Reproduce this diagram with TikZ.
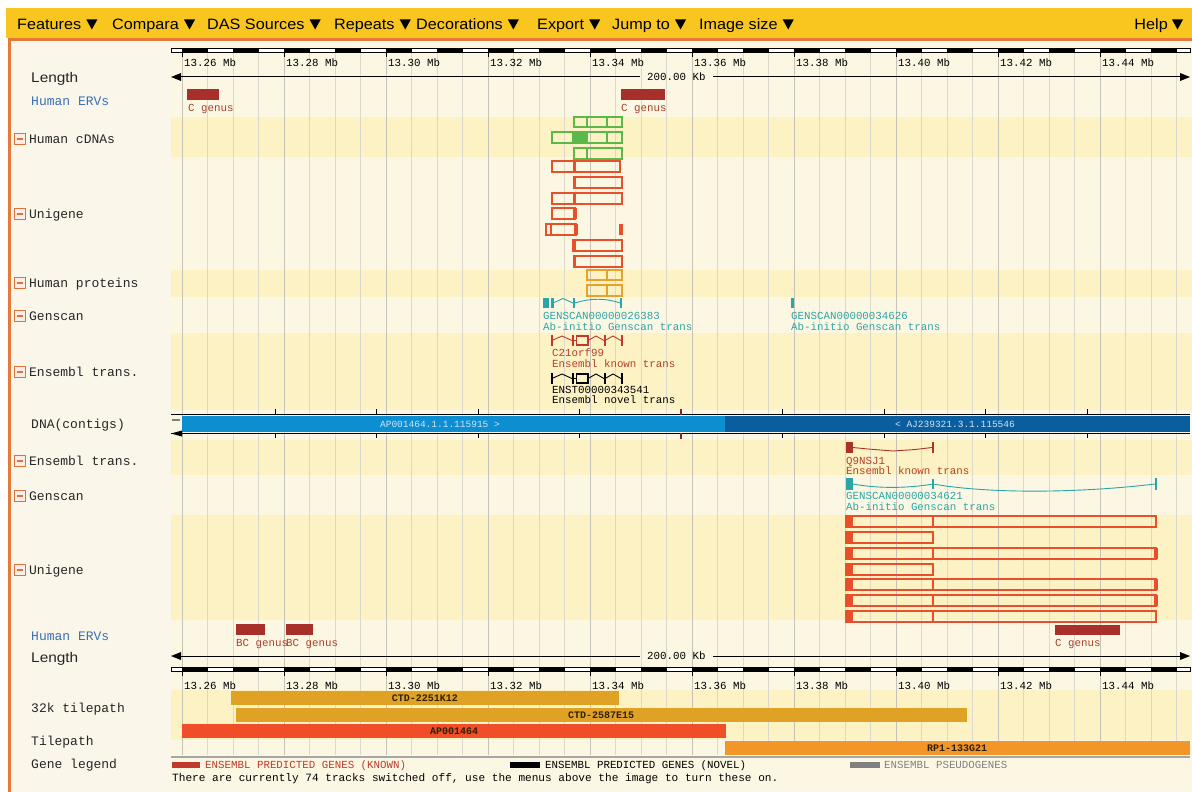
\documentclass[tikz,border=0pt]{standalone}
\usepackage{fontspec}
\newfontfamily\monof{Liberation Mono}
\newfontfamily\menuf[FakeStretch=1.08]{Liberation Sans}
\newfontfamily\labsf[FakeStretch=1.1]{Liberation Sans}
\usetikzlibrary{calc}
\definecolor{menuyel}{HTML}{F9C51F}
\definecolor{menuorange}{HTML}{E5793A}
\definecolor{panelbg}{HTML}{FAF6E9}
\definecolor{trackbg}{HTML}{FBF7E3}
\definecolor{stripe}{HTML}{FCF2C4}
\definecolor{gridmin}{HTML}{DCD8CC}
\definecolor{gridmaj}{HTML}{C6C2B7}
\definecolor{erv}{HTML}{A8302A}
\definecolor{ervtxt}{HTML}{A8402E}
\definecolor{cdna}{HTML}{5CB848}
\definecolor{unig}{HTML}{E8502C}
\definecolor{prot}{HTML}{E8A22A}
\definecolor{gscan}{HTML}{2AA5A8}
\definecolor{known}{HTML}{C0392B}
\definecolor{knowntxt}{HTML}{B5402A}
\definecolor{dnal}{HTML}{0D8ED0}
\definecolor{dnad}{HTML}{0B5E9D}
\definecolor{dnatxt}{HTML}{CFE6F5}
\definecolor{tp32}{HTML}{E0A224}
\definecolor{tpa}{HTML}{EF4E29}
\definecolor{tpb}{HTML}{F3962A}
\definecolor{tptxt}{HTML}{2E1E05}
\definecolor{ervblue}{HTML}{3B70B2}
\definecolor{iconor}{HTML}{E0703C}
\definecolor{pseudo}{HTML}{808080}

\newcommand\ensruler[3]{%
  \fill[white] (171,#1) rectangle (1190,#1+4);
  \foreach \k in {0,...,19}{\fill[black] (182+51*\k,#1) rectangle (207.5+51*\k,#1+4);}
  \draw[black,line width=0.8pt] (171,#1) rectangle (1190,#1+4);
  \foreach \lab [count=\k from 0] in {13.26,13.28,13.30,13.32,13.34,13.36,13.38,13.40,13.42,13.44}{
    \draw[black,line width=0.8pt] (182+102*\k,#1+4) -- (182+102*\k,#1+9);
    \node[ftxt] (#3\k) at (184+102*\k,#2) {\lab\ Mb};
  }}
\newcommand\lenline[2]{%
  \draw[black,line width=1pt] (178,#1) -- (640,#1) (713,#1) -- (1183,#1);
  \fill[black] (171,#1) -- (181,#1-4) -- (181,#1+4) -- cycle;
  \fill[black] (1190,#1) -- (1180,#1-4) -- (1180,#1+4) -- cycle;
  \node[ftxt] (#2) at (647,#1) {200.00 Kb};}
\newcommand\menuitem[3]{%
  \node[menu] (#1) at (#2,24) {#3};
  \fill[black] ($(#1.east)+(5,-4.5)$) -- ++(11,0) -- ++(-5.5,10) -- cycle;}
\newcommand\minusicon[1]{%
  \draw[iconor,fill=iconor!12,line width=1pt] (14,#1-5.5) rectangle (25,#1+5.5);
  \draw[iconor,line width=1.2pt] (16.5,#1) -- (22.5,#1);}
\newcommand\transglyph[2]{% #1 colour, #2 top
  \begin{scope}[#1]
  \draw[exonbar] (552,#2) -- (552,#2+11);
  \draw[intron] (552,#2+5.5) -- (562,#2+1) -- (572,#2+5.5);
  \draw[exonbar] (573,#2) -- (573,#2+11);
  \draw[intron] (573,#2+5.5) -- (576,#2+5.5);
  \draw[line width=1.3pt] (576.5,#2+1) rectangle (588,#2+10);
  \draw[intron] (588,#2+5.5) -- (596,#2+1) -- (604,#2+5.5);
  \draw[exonbar] (605,#2) -- (605,#2+11);
  \draw[intron] (605,#2+5.5) -- (613,#2+1) -- (621,#2+5.5);
  \draw[exonbar] (622,#2) -- (622,#2+11);
  \end{scope}}

\begin{document}
\begin{tikzpicture}[x=1pt,y=-1pt,
  menu/.style={anchor=west,inner sep=0pt,text height=11pt,text depth=0pt,font=\menuf\fontsize{15}{15}\selectfont},
  slab/.style={anchor=west,inner sep=0pt,text height=10pt,text depth=0pt,text=black!85,font=\labsf\fontsize{14}{14}\selectfont},
  lab/.style={anchor=west,inner sep=0pt,text height=9pt,text depth=0pt,text=black!85,font=\monof\fontsize{13}{13}\selectfont},
  ftxt/.style={anchor=west,inner sep=0pt,text height=7.5pt,text depth=0pt,font=\monof\fontsize{10.8}{10.8}\selectfont},
  stxt/.style={anchor=center,inner sep=0pt,text height=6.5pt,text depth=0pt,font=\monof\fontsize{9.5}{9.5}\selectfont},
  btxt/.style={stxt,font=\monof\bfseries\fontsize{10}{10}\selectfont},
  gmin/.style={draw=gridmin,line width=0.8pt},
  gmaj/.style={draw=gridmaj,line width=0.9pt},
  box/.style={line width=1.3pt},
  exonbar/.style={line width=1.7pt},
  intron/.style={line width=0.9pt}]
\useasboundingbox (0,0) rectangle (1192,792);
% --- frame ---
\fill[white] (0,0) rectangle (1192,792);
\fill[menuyel] (6,8) rectangle (1192,38);
\fill[panelbg] (8,38) rectangle (1192,792);
\fill[menuorange] (8,38) rectangle (1192,41);
\fill[menuorange] (8,38) rectangle (11,792);
% --- menu ---
\menuitem{mFeat}{17}{Features}
\menuitem{mComp}{112}{Compara}
\menuitem{mDas}{207}{DAS Sources}
\menuitem{mRep}{334}{Repeats}
\menuitem{mDec}{416}{Decorations}
\menuitem{mExp}{537}{Export}
\menuitem{mJump}{612}{Jump to}
\menuitem{mSize}{699}{Image size}
\node[menu,anchor=east] (mHelp) at (1168,24) {Help};
\fill[black] (1172,19.5) -- (1183,19.5) -- (1177.5,29.5) -- cycle;
% --- track background ---
\fill[trackbg] (171,44) rectangle (1192,790);
\foreach \ya/\yb in {117/157,270/297,333/410,440/475,515/620,690/740}{
  \fill[stripe] (171,\ya) rectangle (1192,\yb);}
\foreach \i in {0,...,39}{
  \pgfmathtruncatemacro\maj{mod(\i,4)==0 ? 1 : 0}
  \ifnum\maj=1 \draw[gmaj] (182+25.5*\i,52) -- (182+25.5*\i,755);
  \else \draw[gmin] (182+25.5*\i,52) -- (182+25.5*\i,755); \fi}
% --- rulers ---
\ensruler{48}{63}{rt}
\lenline{77}{lenT}
\ensruler{667}{686}{rb}
\lenline{656}{lenB}
% --- labels ---
\node[slab] (lLen1) at (31,77) {Length};
\node[lab,text=ervblue] (lErv1) at (31,101) {Human ERVs};
\minusicon{139}\node[lab] (lCdna) at (29,139) {Human cDNAs};
\minusicon{214}\node[lab] (lUni1) at (29,214) {Unigene};
\minusicon{283}\node[lab] (lProt) at (29,283) {Human proteins};
\minusicon{316}\node[lab] (lGen1) at (29,316) {Genscan};
\minusicon{372}\node[lab] (lEns1) at (29,372) {Ensembl trans.};
\node[lab] (lDna) at (31,424) {DNA(contigs)};
\minusicon{461}\node[lab] (lEns2) at (29,461) {Ensembl trans.};
\minusicon{496}\node[lab] (lGen2) at (29,496) {Genscan};
\minusicon{570}\node[lab] (lUni2) at (29,570) {Unigene};
\node[lab,text=ervblue] (lErv2) at (31,636) {Human ERVs};
\node[slab] (lLen2) at (31,657) {Length};
\node[lab] (lTp32) at (31,708) {32k tilepath};
\node[lab] (lTp) at (31,741) {Tilepath};
\node[lab] (lLeg) at (31,764) {Gene legend};
% --- upper Human ERVs ---
\fill[erv] (187,89) rectangle (219,100);
\node[ftxt,text=ervtxt] (e1) at (188,108) {C genus};
\fill[erv] (621,89) rectangle (665,100);
\node[ftxt,text=ervtxt] (e2) at (621,108) {C genus};
% --- Human cDNAs ---
\begin{scope}[cdna,box]
\draw (574,117) rectangle (587,127) (587,117) rectangle (607,127) (607,117) rectangle (622,127);
\fill (573,132) rectangle (587,143);
\draw (552,132) rectangle (573,143) (573,132) rectangle (587,143) (587,132) rectangle (607,143) (607,132) rectangle (622,143);
\draw (574,148) rectangle (587,159) (587,148) rectangle (622,159);
\end{scope}
% --- upper Unigene ---
\begin{scope}[unig,box]
\draw (552,161) rectangle (574,172) (574,161) rectangle (620,172);
\fill (572.5,161) rectangle (576,172);
\draw (574,177) rectangle (622,188);
\fill (572.5,177) rectangle (576,188);
\draw (552,193) rectangle (574,204) (574,193) rectangle (622,204);
\fill (572.5,193) rectangle (576,204);
\draw (552,208) rectangle (575,219);
\fill (573,208) rectangle (576.5,219);
\draw (546,224) rectangle (551,235) (551,224) rectangle (576,235);
\fill (574,224) rectangle (577.5,235);
\fill (619,224) rectangle (622.5,235);
\draw (573,240) rectangle (622,251);
\fill (572,240) rectangle (575.5,251);
\draw (574,256) rectangle (622,267);
\fill (572.5,256) rectangle (576,267);
\end{scope}
% --- Human proteins ---
\begin{scope}[prot,box]
\draw (587,270) rectangle (607,280) (607,270) rectangle (622,280);
\draw (587,285) rectangle (607,296) (607,285) rectangle (622,296);
\end{scope}
% --- upper Genscan ---
\begin{scope}[gscan]
\fill (543,298) rectangle (549,308);
\fill (551,298) rectangle (553.5,308);
\draw[intron] (553,303) -- (563,298.5) -- (573,303);
\draw[exonbar] (574,298) -- (574,308);
\draw[intron] (575,303) .. controls (590,298) and (606,298) .. (620,303);
\draw[exonbar] (621,298) -- (621,308);
\fill (791,298) rectangle (794,308);
\end{scope}
\node[ftxt,text=gscan] (g1a) at (543,316) {GENSCAN00000026383};
\node[ftxt,text=gscan] (g1b) at (543,327) {Ab-initio Genscan trans};
\node[ftxt,text=gscan] (g2a) at (791,316) {GENSCAN00000034626};
\node[ftxt,text=gscan] (g2b) at (791,327) {Ab-initio Genscan trans};
% --- upper Ensembl trans ---
\transglyph{known}{335}
\node[ftxt,text=knowntxt] (k1a) at (552,353) {C21orf99};
\node[ftxt,text=knowntxt] (k1b) at (552,364) {Ensembl known trans};
\transglyph{black}{373}
\node[ftxt,text=black] (n1a) at (552,390) {ENST00000343541};
\node[ftxt,text=black] (n1b) at (552,400) {Ensembl novel trans};
% --- DNA contigs ---
\draw[black,line width=0.8pt] (171,414) -- (1190,414);
\draw[black,line width=0.8pt] (171,433.5) -- (1190,433.5);
\fill[dnal] (182,416) rectangle (725,432);
\fill[dnad] (725,416) rectangle (1190,432);
\foreach \k in {0,...,8}{
  \pgfmathtruncatemacro\isred{\k==4 ? 1 : 0}
  \ifnum\isred=1
    \draw[known!70!black,line width=1.5pt] (275+101.5*\k,409) -- (275+101.5*\k,415) (275+101.5*\k,433) -- (275+101.5*\k,439);
  \else
    \draw[black,line width=1pt] (275+101.5*\k,409) -- (275+101.5*\k,414) (275+101.5*\k,433) -- (275+101.5*\k,438);
  \fi}
\draw[gray,line width=1.2pt] (172,420) -- (180,420);
\fill[black] (171,433.5) -- (182,430.5) -- (182,436.5) -- cycle;
\node[stxt,text=dnatxt] (c1) at (440,424) {AP001464.1.1.115915 >};
\node[stxt,text=dnatxt] (c2) at (955,424) {< AJ239321.3.1.115546};
% --- lower Ensembl trans ---
\begin{scope}[known!90!black]
\fill (846,442) rectangle (853,453);
\draw[intron] (853,447.5) -- (868,449) -- (893,451) -- (915,449.5) -- (932,447.5);
\draw[exonbar] (933,442) -- (933,453);
\end{scope}
\node[ftxt,text=knowntxt] (k2a) at (846,461) {Q9NSJ1};
\node[ftxt,text=knowntxt] (k2b) at (846,471) {Ensembl known trans};
% --- lower Genscan ---
\begin{scope}[gscan]
\fill (846,478) rectangle (853,490);
\draw[intron] (853,484) .. controls (880,489) and (910,488) .. (933,484);
\draw[line width=1.4pt] (933,479) -- (933,489);
\draw[intron] (933,484) .. controls (990,494) and (1080,493) .. (1155,484);
\draw[line width=2.2pt] (1156,478) -- (1156,490);
\end{scope}
\node[ftxt,text=gscan] (g3a) at (846,496) {GENSCAN00000034621};
\node[ftxt,text=gscan] (g3b) at (846,507) {Ab-initio Genscan trans};
% --- lower Unigene ---
\foreach \yy/\ulen/\uthk in {516/1/0,532/0/0,548/1/1,564/0/0,579/1/1,595/1/1,611/1/0}{
  \fill[unig] (846,\yy) rectangle (853,\yy+11);
  \draw[unig,box] (846,\yy) rectangle (933,\yy+11);
  \ifnum\ulen=1 \draw[unig,box] (933,\yy) rectangle (1156,\yy+11); \fi
  \ifnum\uthk=1 \fill[unig] (1154,\yy) rectangle (1158,\yy+11); \fi}
% --- lower Human ERVs ---
\fill[erv] (236,624) rectangle (265,635);
\fill[erv] (286,624) rectangle (313,635);
\fill[erv] (1055,625) rectangle (1120,635);
\node[ftxt,text=ervtxt] (e3) at (236,643) {BC genus};
\node[ftxt,text=ervtxt] (e4) at (286,643) {BC genus};
\node[ftxt,text=ervtxt] (e5) at (1055,643) {C genus};
% --- tilepaths ---
\fill[tp32] (231,691) rectangle (619,705);
\node[btxt,text=tptxt] (t1) at (425,698) {CTD-2251K12};
\fill[tp32] (236,708) rectangle (967,722);
\node[btxt,text=tptxt] (t2) at (601,715) {CTD-2587E15};
\fill[tpa] (182,724) rectangle (726,738);
\node[btxt,text=tptxt] (t3) at (454,731) {AP001464};
\fill[tpb] (725,741) rectangle (1190,755);
\node[btxt,text=tptxt] (t4) at (957,748) {RP1-133G21};
\draw[gray!70,line width=1.2pt] (171,757) -- (1190,757);
% --- legend ---
\fill[known] (172,762) rectangle (200,768);
\node[ftxt,text=known] (lg1) at (205,765) {ENSEMBL PREDICTED GENES (KNOWN)};
\fill[black] (510,762) rectangle (540,768);
\node[ftxt,text=black] (lg2) at (545,765) {ENSEMBL PREDICTED GENES (NOVEL)};
\fill[pseudo] (850,762) rectangle (880,768);
\node[ftxt,text=pseudo] (lg3) at (884,765) {ENSEMBL PSEUDOGENES};
\node[ftxt,text=black,font=\monof\fontsize{11.1}{11.1}\selectfont] (note) at (172,778) {There are currently 74 tracks switched off, use the menus above the image to turn these on.};
\end{tikzpicture}
\end{document}
